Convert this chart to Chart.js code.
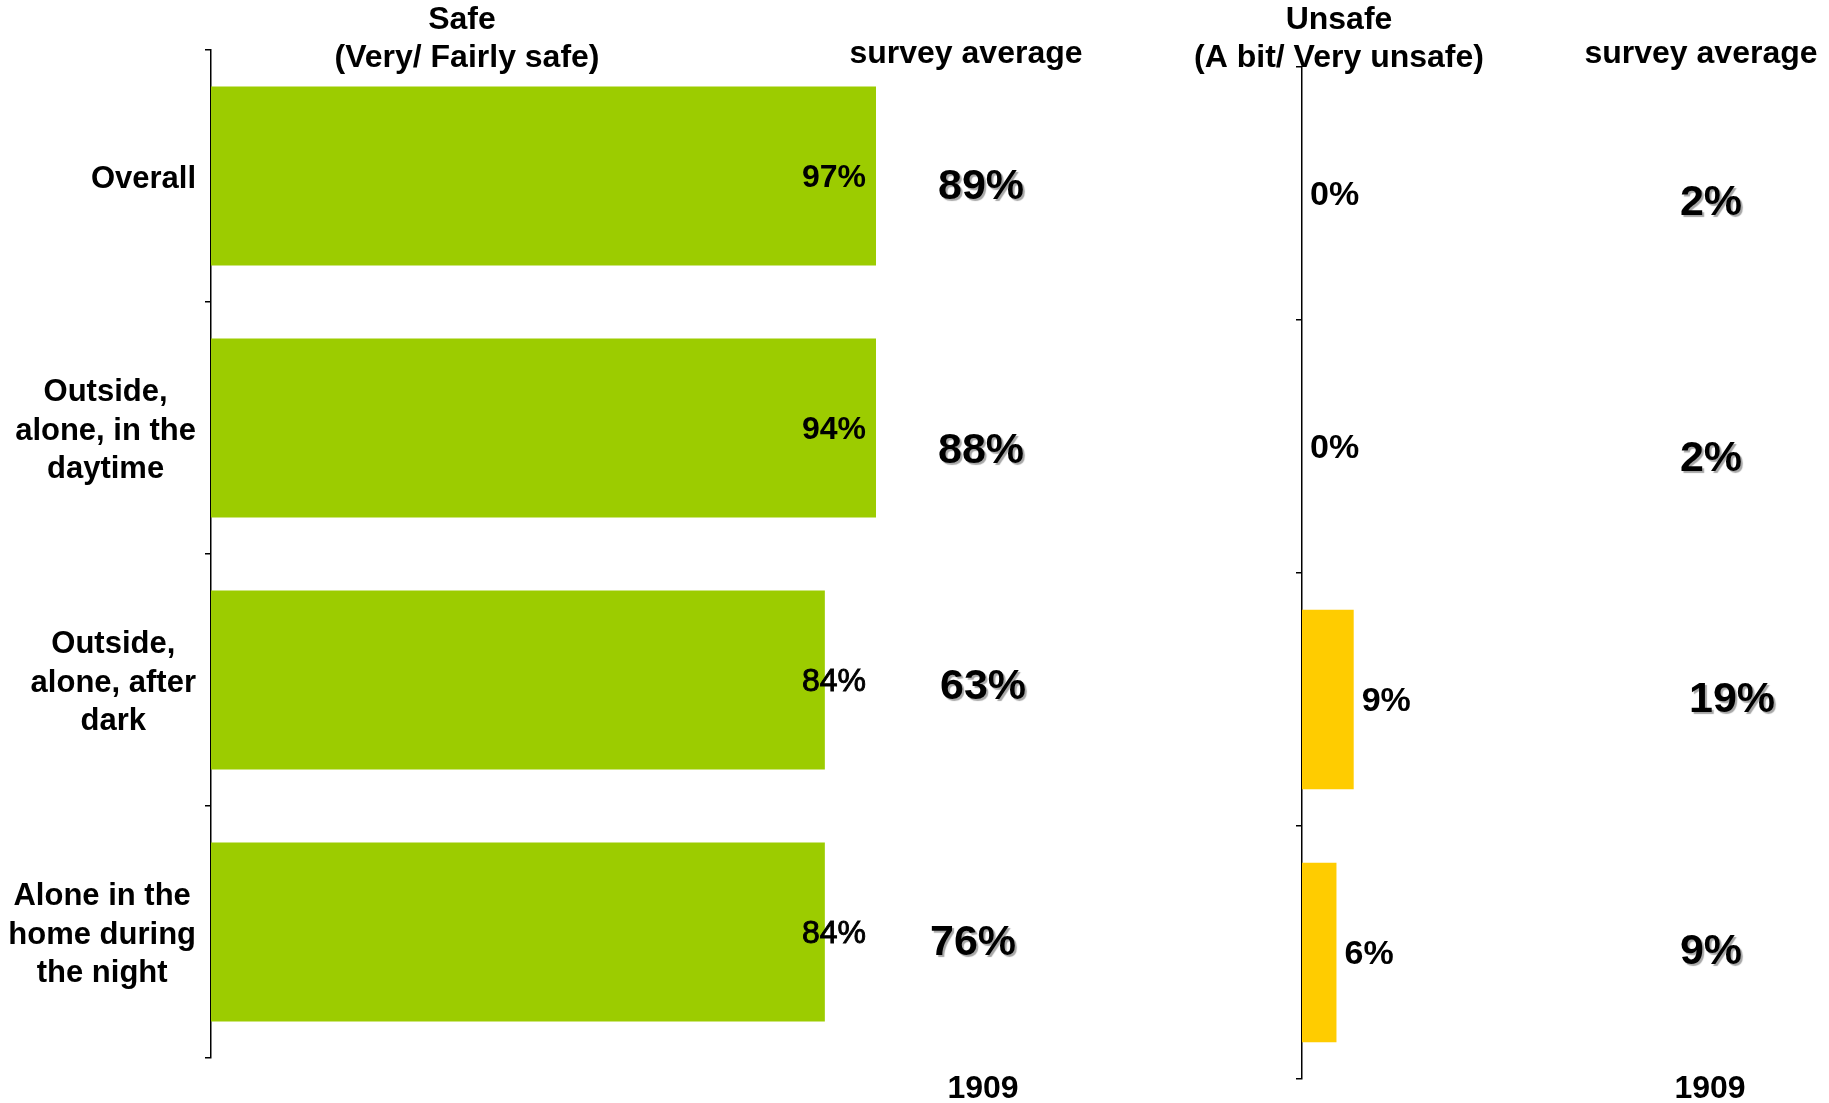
<!DOCTYPE html>
<html>
<head>
<meta charset="utf-8">
<script src="https://cdn.jsdelivr.net/npm/chart.js@4"></script>
<style>
body { margin: 0; background: #fff; width: 1829px; height: 1103px; overflow: hidden; position: relative; }
#safe { position: absolute; left: 0; top: 0; }
#unsafe { position: absolute; left: 1150px; top: 0; }
</style>
</head>
<body>
<canvas id="safe" width="1150" height="1103"></canvas>
<canvas id="unsafe" width="679" height="1103"></canvas>
<script>
const categories = [
    ['Overall'],
    ['Outside,', 'alone, in the', 'daytime'],
    ['Outside,', 'alone, after', 'dark'],
    ['Alone in the', 'home during', 'the night']
];
const safeValues = [97, 94, 84, 84];
const unsafeValues = [0, 0, 9, 6];
const safeSurveyAverage = [89, 88, 63, 76];
const unsafeSurveyAverage = [2, 2, 19, 9];
const baseSize = '1909';

const FONT = '"Liberation Sans", Arial, sans-serif';

function text(ctx, str, x, y, size, weight, align, shadow, stroke) {
    ctx.save();
    ctx.font = `${weight} ${size}px ${FONT}`;
    ctx.textAlign = align || 'center';
    ctx.textBaseline = 'middle';
    ctx.fillStyle = '#000';
    if (shadow) {
        ctx.shadowColor = 'rgba(0,0,0,0.35)';
        ctx.shadowOffsetX = 2;
        ctx.shadowOffsetY = 2;
        ctx.shadowBlur = 1;
    }
    ctx.fillText(str, x, y);
    if (stroke) {
        ctx.strokeStyle = '#000';
        ctx.lineWidth = stroke;
        ctx.strokeText(str, x, y);
    }
    ctx.restore();
}

// draws headers, bar labels and the survey average column
const overlay = {
    id: 'overlay',
    afterDraw(chart, args, o) {
        const ctx = chart.ctx;
        const y = chart.scales.y;
        const x = chart.scales.x;
        const area = chart.chartArea;

        o.titles.forEach(t => text(ctx, t[0], t[1], t[2], 32, 'bold'));

        if (o.categoryLabels) {
            ctx.font = `bold 31px ${FONT}`;
            categories.forEach((lines, i) => {
                const widest = Math.max(...lines.map(l => ctx.measureText(l).width));
                const cx = area.left - 15 - widest / 2;
                const cy = y.getPixelForValue(i) + 3;
                lines.forEach((l, j) =>
                    text(ctx, l, cx, cy + (j - (lines.length - 1) / 2) * 38.5, 31, 'bold'));
            });
        }

        o.values.forEach((v, i) => {
            const cy = y.getPixelForValue(i) + 2;
            if (o.inside) {
                const strong = v >= 90;
                text(ctx, v + '%', area.right - 10, cy, 32, strong ? 'bold' : 'normal', 'right', false, strong ? 0 : 0.9);
            } else {
                text(ctx, v + '%', x.getPixelForValue(v) + 8, cy, 34, 'bold', 'left');
            }
        });

        o.average.forEach((v, i) => {
            const cy = y.getPixelForValue(i) + o.avgDy[i];
            text(ctx, v + '%', o.avgX[i], cy, 43, 'bold', 'center', true);
        });

        text(ctx, baseSize, o.baseX, 1089, 32, 'bold');
    }
};

function makeChart(id, values, color, max, yWidth, padding, overlayOpts) {
    return new Chart(document.getElementById(id), {
        type: 'bar',
        data: {
            labels: categories.map(c => c.join(' ')),
            datasets: [{
                data: values,
                backgroundColor: color,
                borderWidth: 0,
                categoryPercentage: 0.71,
                barPercentage: 1,
                clip: 0
            }]
        },
        options: {
            indexAxis: 'y',
            responsive: false,
            animation: false,
            layout: { padding },
            plugins: {
                legend: { display: false },
                tooltip: { enabled: false },
                overlay: overlayOpts
            },
            scales: {
                x: { display: false, min: 0, max },
                y: {
                    afterFit: s => { s.width = yWidth; },
                    ticks: { display: false },
                    grid: { drawOnChartArea: false, color: '#000', tickLength: 6, lineWidth: 1.5 },
                    border: { display: true, color: '#000', width: 1.5 }
                }
            }
        },
        plugins: [overlay]
    });
}

makeChart('safe', safeValues, '#9CCC00', 91, 211,
    { left: 0, right: 274, top: 50, bottom: 45 },
    {
        titles: [['Safe', 462, 20], ['(Very/ Fairly safe)', 467, 58], ['survey average', 966, 54]],
        categoryLabels: true,
        values: safeValues,
        inside: true,
        average: safeSurveyAverage,
        avgX: [981, 981, 983, 973],
        avgDy: [11, 23, 7, 11],
        baseX: 983
    });

makeChart('unsafe', unsafeValues, '#FFCC00', 90, 152,
    { left: 0, right: 10, top: 67, bottom: 24 },
    {
        titles: [['Unsafe', 189, 20], ['(A bit/ Very unsafe)', 189, 58], ['survey average', 551, 54]],
        categoryLabels: false,
        values: unsafeValues,
        inside: false,
        average: unsafeSurveyAverage,
        avgX: [561, 561, 582, 561],
        avgDy: [10, 13, 1, 0],
        baseX: 560
    });
</script>
</body>
</html>
